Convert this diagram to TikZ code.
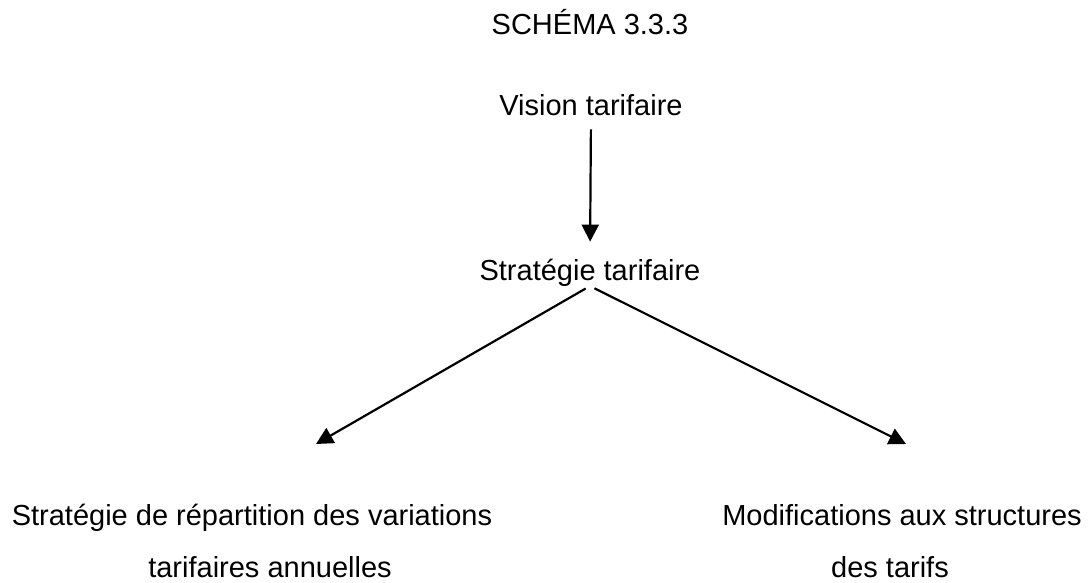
\documentclass[tikz,border=0pt]{standalone}
\usepackage{fontspec}
\setmainfont{Liberation Sans}
\usetikzlibrary{arrows.meta}
\begin{document}
\begin{tikzpicture}[x=1pt,y=-1pt,
  lbl/.style={inner sep=0pt,outer sep=0pt,font=\fontsize{29}{52}\selectfont,align=center},
  conn/.style={line width=2.2pt,-{Triangle[length=17pt,width=17pt]}}]
\useasboundingbox (0,0) rectangle (1088,582);
\node[lbl,anchor=base] (title) at (590,34) {SCHÉMA 3.3.3};
\node[lbl,anchor=base] (vision) at (591,115) {Vision tarifaire};
\node[lbl,anchor=base] (strat) at (590,280) {Stratégie tarifaire};
\node[lbl,anchor=base] (left) at (252,577) {Stratégie de répartition des variations\\\hspace*{36pt}tarifaires annuelles};
\node[lbl,anchor=base] (right) at (902,577) {Modifications aux structures\\des tarifs\hspace*{24pt}};
\coordinate (lt) at (316,444);
\coordinate (rt) at (906,444);
\draw[conn,shorten <=14pt,shorten >=17pt] (vision.south) -- (strat.north);
\draw[conn,shorten <=5pt] (strat.south) -- (lt);
\draw[conn,shorten <=5pt] (strat.south) -- (rt);
\end{tikzpicture}
\end{document}
